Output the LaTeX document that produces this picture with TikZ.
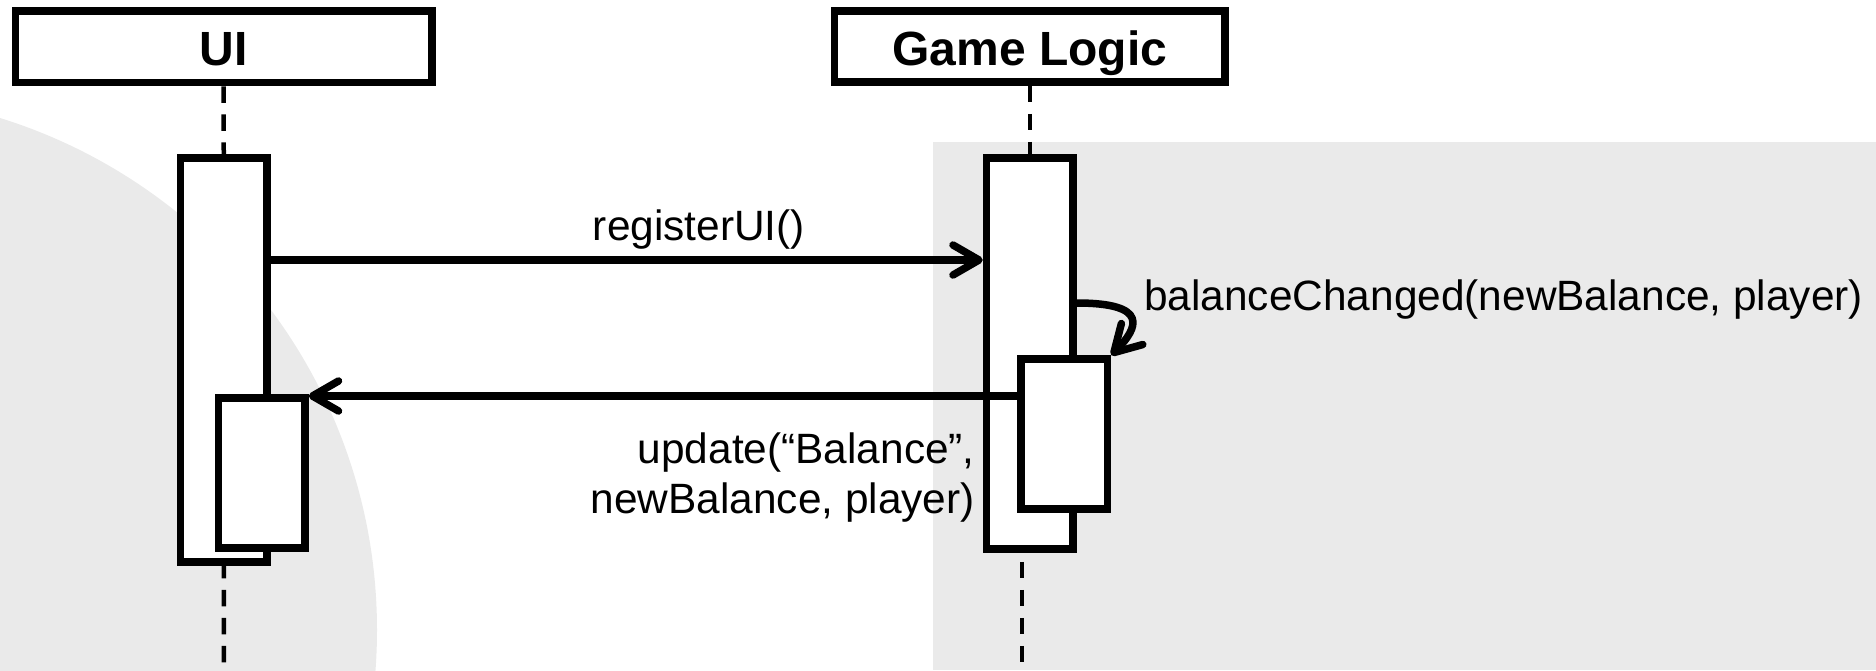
\documentclass[tikz,border=0pt]{standalone}
\usepackage{fontspec}
\setmainfont{Liberation Sans}
\usetikzlibrary{arrows.meta}
\definecolor{panelgray}{RGB}{234,234,234}
\begin{document}
\begin{tikzpicture}[x=1pt, y=-1pt,
  head/.style={draw, line width=7.5pt, fill=white, inner sep=0pt,
    text height=38pt, text depth=0pt,
    font=\bfseries\fontsize{48}{54}\selectfont},
  actbar/.style={draw, line width=7.5pt, fill=white, inner sep=0pt,
    minimum width=86.5pt},
  lifeline/.style={line width=4.5pt, dash pattern=on 16.5pt off 11.5pt},
  msg/.style={line width=7.5pt, -{Straight Barb[length=26pt, width=30pt, round]}},
  msgtext/.style={inner sep=0pt, font=\fontsize{42.4}{48}\selectfont}]
  \useasboundingbox (0,0) rectangle (1876,670);
  \clip (0,0) rectangle (1876,670);

  % background shapes
  \fill[panelgray] (-159,630) circle (536);
  \fill[panelgray] (933,142) rectangle (1876,670);

  % lifeline heads
  \node[head, minimum width=416.7pt, minimum height=71.5pt] (uihead) at (223.7,46.75) {UI};
  \node[head, minimum width=390.5pt, minimum height=71pt] (glhead) at (1029.75,46.5) {Game Logic};

  % activation bars
  \node[actbar, minimum height=404pt] (uibar) at (223.75,360) {};
  \node[actbar, minimum height=150pt] (uiact) at (261.75,473) {};
  \node[actbar, minimum height=391pt] (glbar) at (1029.75,353.5) {};
  \node[actbar, minimum height=150pt] (glact) at (1064.25,434) {};

  % dashed lifelines
  \coordinate (uifoot) at (224,670);
  \coordinate (glfoot) at (1022,670);
  \draw[lifeline] (uihead.south) -- (uibar.north);
  \draw[lifeline, dash phase=4pt] (uibar.south) -- (uifoot);
  \draw[lifeline] (glhead.south) -- (glbar.north);
  \draw[lifeline, dash phase=19pt] (glfoot |- glbar.south) -- (glfoot);

  % messages
  \draw[msg] (uibar.east |- 0,260) -- (glbar.west |- 0,260);
  \draw[msg] (glbar.east |- 0,303) .. controls (1150,303) and (1138,328) .. (glact.north east);
  \draw[msg] (glact.west |- 0,396) -- (uiact.east |- 0,396);

  % message labels
  \node[msgtext, anchor=base] (lregister) at (699,240) {registerUI()};
  \node[msgtext, anchor=base west] (lbalance) at (1144,310.5) {balanceChanged(newBalance, player)};
  \node[msgtext, anchor=base east] (lupdatea) at (975,463) {update(“Balance”,};
  \node[msgtext, anchor=base east] (lupdateb) at (975,513) {newBalance, player)};
\end{tikzpicture}
\end{document}
